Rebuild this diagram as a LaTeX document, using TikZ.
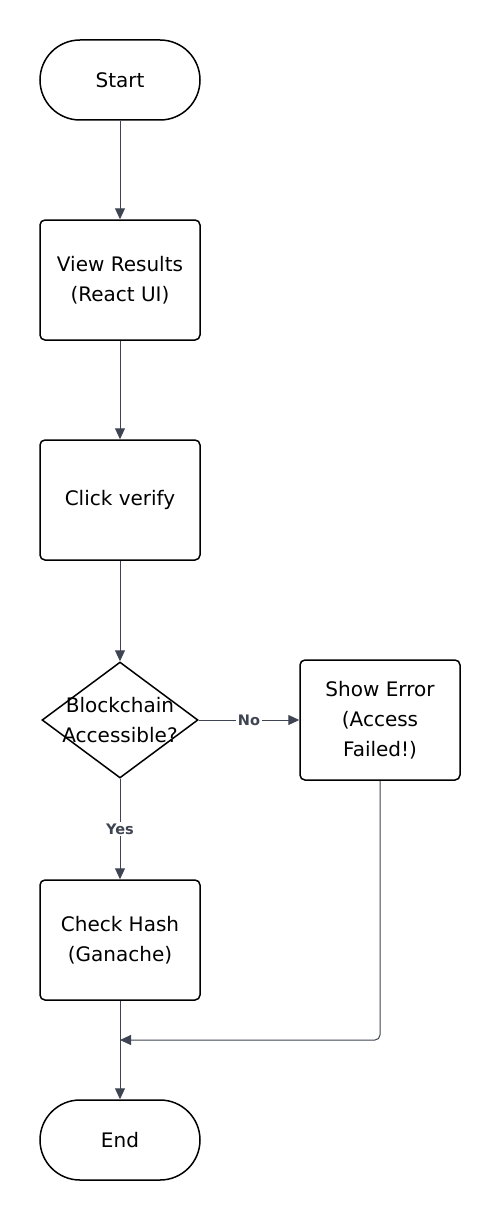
\documentclass[tikz,border=0pt]{standalone}
\usepackage{fontspec}
\setmainfont{DejaVu Sans}
\usetikzlibrary{shapes.geometric,arrows.meta}
\definecolor{edgecol}{HTML}{3E4451}
\begin{document}
\begin{tikzpicture}[x=1pt,y=-1pt,
  base/.style={draw=black,line width=1.5pt,fill=white,font=\fontsize{20}{30}\selectfont,align=center,inner sep=0pt},
  stepbox/.style={base,rectangle,rounded corners=5pt,minimum width=160pt,minimum height=120pt},
  term/.style={base,rectangle,rounded corners=40pt,minimum width=160pt,minimum height=80pt},
  decision/.style={base,diamond,minimum width=156pt,minimum height=116pt},
  dtext/.style={font=\fontsize{20}{30}\selectfont,align=center,inner sep=0pt},
  flow/.style={draw=edgecol,line width=1pt,-{Triangle[length=11pt,width=10pt]}},
  lab/.style={font=\bfseries\fontsize{14.5}{14.5}\selectfont,text=edgecol,fill=white,inner sep=2pt}
]
\useasboundingbox (0,0) rectangle (500,1220);

\node[term] (start) at (120,80) {Start};
\node[stepbox] (view) at (120,280) {View Results\\(React UI)};
\node[stepbox] (click) at (120,500) {Click verify};
\node[decision] (dec) at (120,720) {};
\node[dtext] (dectext) at (120,720) {Blockchain\\Accessible?};
\node[stepbox] (err) at (380,720) {Show Error\\(Access\\Failed!)};
\node[stepbox] (hash) at (120,940) {Check Hash\\(Ganache)};
\node[term] (end) at (120,1140) {End};
\coordinate (merge) at (120,1040);
\coordinate (corner) at (380,1040);

\draw[flow] (start) -- (view);
\draw[flow] (view) -- (click);
\draw[flow] (click) -- (dec);
\draw[flow] (dec.east) -- node[lab] {No} (err.west);
\draw[flow] (dec.south) -- node[lab,pos=0.5] {Yes} (hash.north);
\draw[flow] (hash) -- (end);
\draw[flow,rounded corners=5pt] (err.south) -- (corner) -- (merge);
\end{tikzpicture}
\end{document}
